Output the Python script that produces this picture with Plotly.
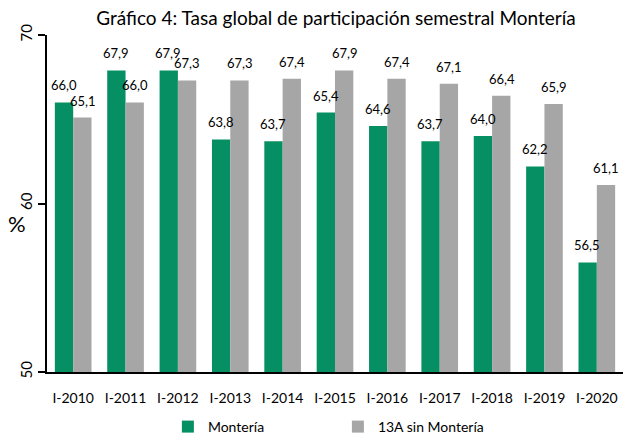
import plotly.graph_objects as go

categories = ["I-2010", "I-2011", "I-2012", "I-2013", "I-2014", "I-2015",
              "I-2016", "I-2017", "I-2018", "I-2019", "I-2020"]
monteria = [66.0, 67.9, 67.9, 63.8, 63.7, 65.4, 64.6, 63.7, 64.0, 62.2, 56.5]
sin_monteria = [65.1, 66.0, 67.3, 67.3, 67.4, 67.9, 67.4, 67.1, 66.4, 65.9, 61.1]
y_ticks = [50, 60, 70]

FONT = "Lato"
GREEN = "#078F64"
GRAY = "#A6A6A6"

fig = go.Figure()
fig.add_trace(go.Bar(
    x=categories, y=monteria, name="Montería",
    marker=dict(color=GREEN, line=dict(width=0)),
))
fig.add_trace(go.Bar(
    x=categories, y=sin_monteria, name="13A sin Montería",
    marker=dict(color=GRAY, line=dict(width=0)),
))

# value labels above each bar, positioned through the data axes
for vals, shift in ((monteria, -9.5), (sin_monteria, 9.5)):
    for c, v in zip(categories, vals):
        fig.add_annotation(x=c, y=v, xref="x", yref="y", text=f"{v:.1f}".replace(".", ","),
                           showarrow=False, xanchor="center", yanchor="bottom",
                           xshift=shift, yshift=7,
                           font=dict(size=13, family=FONT, color="black"))

fig.update_layout(
    width=623, height=436,
    separators=",.",
    barmode="group", bargap=0.3, bargroupgap=0,
    plot_bgcolor="white", paper_bgcolor="white",
    font=dict(family=FONT, size=14, color="black"),
    margin=dict(l=47, r=0, t=35, b=64, autoexpand=False),
    title=dict(text="Gráfico 4: Tasa global de participación semestral Montería",
               x=(336 / 623), xanchor="center", xref="container",
               y=(436 - 18) / 436, yanchor="middle", yref="container",
               font=dict(size=19, family=FONT, color="black")),
    legend=dict(orientation="h", x=0.505, xanchor="center",
                y=9 / 436, yanchor="middle", yref="container",
                font=dict(size=14, family=FONT), entrywidth=125,
                itemwidth=30, traceorder="normal"),
    showlegend=True,
)
fig.update_yaxes(range=[50, 70], tickvals=y_ticks, ticktext=[str(v) for v in y_ticks],
                 tickangle=-90, showgrid=False, zeroline=False,
                 showline=True, linecolor="black", linewidth=2,
                 ticks="outside", ticklen=7, tickcolor="black", tickwidth=2,
                 tickfont=dict(size=15, family=FONT))
fig.update_xaxes(showgrid=False, showline=True, linecolor="black", linewidth=2,
                 ticks="outside", ticklen=12, tickcolor="rgba(0,0,0,0)",
                 tickfont=dict(size=14, family=FONT))
fig.add_annotation(text="%", xref="paper", yref="paper", x=-0.052, y=0.44,
                   xanchor="center", yanchor="middle", showarrow=False,
                   font=dict(size=22, family=FONT, color="black"))

fig.write_html("out.html", config={"displayModeBar": False},
               post_script="document.body.style.margin='0';document.body.style.overflow='hidden';")
